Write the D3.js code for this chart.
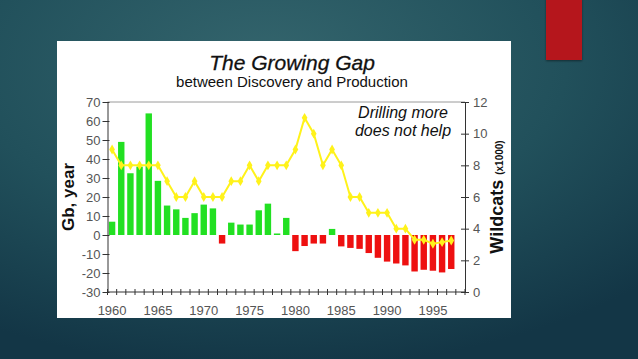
<!DOCTYPE html>
<html><head><meta charset="utf-8">
<script src="https://cdn.jsdelivr.net/npm/d3@7/dist/d3.min.js"></script>
<style>html,body{margin:0;padding:0;overflow:hidden;background:#1e4652}svg{display:block}</style>
</head><body><svg id="c" width="638" height="359"></svg>
<script>
// ---- data ----
const years = [1960,1961,1962,1963,1964,1965,1966,1967,1968,1969,1970,1971,1972,1973,1974,1975,1976,1977,1978,1979,1980,1981,1982,1983,1984,1985,1986,1987,1988,1989,1990,1991,1992,1993,1994,1995,1996,1997];
const slots = years.concat([1998]);
const gap = [7,49,32.5,36,64,28.5,15.5,13.5,9,11.5,16,14,-4.5,6.5,5.5,5.5,13,16.5,0.8,9,-8.5,-5.8,-4.5,-4.5,3.2,-6,-6.8,-7.3,-9.5,-12,-14,-15,-16,-19.2,-18.3,-18.8,-19.7,-17.9];
const wildcats = [9,8,8,8,8,8,7,6,6,7,6,6,6,7,7,8,7,8,8,8,9,11,10,8,9,8,6,6,5,5,5,4,4,3.3,3.3,3.05,3.15,3.25];
const yearLabels = [1960,1965,1970,1975,1980,1985,1990,1995];
const leftTicks = [-30,-20,-10,0,10,20,30,40,50,60,70];
const rightTicks = [0,2,4,6,8,10,12];
const title = "The Growing Gap";
const subtitle = "between Discovery and Production";
const note = ["Drilling more","does not help"];

const svg = d3.select("#c");
const defs = svg.append("defs");
const rg = defs.append("radialGradient").attr("id","bg").attr("cx","42%").attr("cy","18%").attr("r","85%");
rg.append("stop").attr("offset","0%").attr("stop-color","#34656d");
rg.append("stop").attr("offset","55%").attr("stop-color","#21505b");
rg.append("stop").attr("offset","100%").attr("stop-color","#133646");
const sh = defs.append("filter").attr("id","sh").attr("x","-20%").attr("y","-20%").attr("width","140%").attr("height","140%");
sh.append("feDropShadow").attr("dx",0).attr("dy",1).attr("stdDeviation",1.2).attr("flood-color","#000").attr("flood-opacity",0.45);

svg.append("rect").attr("width",638).attr("height",359).attr("fill","url(#bg)");
svg.append("rect").attr("x",546).attr("y",-2).attr("width",36).attr("height",62).attr("fill","#b5191a").attr("filter","url(#sh)");
svg.append("rect").attr("x",57).attr("y",41).attr("width",454).attr("height",277).attr("fill","#fff");

const L = 107.5, R = 465, T = 102, B = 292;
const x = d3.scaleBand().domain(slots).range([L,R]).paddingInner(0.3).paddingOuter(0.15);
const yL = d3.scaleLinear().domain([-30,70]).range([B,T]);
const yR = d3.scaleLinear().domain([0,12]).range([B,T]);
const step = x.step();

const font = "'Liberation Sans', Arial, sans-serif";
const fmt = d => String(d);

// bars
svg.append("g").selectAll("rect").data(years).join("rect")
  .attr("x", d => x(d))
  .attr("width", x.bandwidth())
  .attr("y", (d,i) => yL(Math.max(0, gap[i])))
  .attr("height", (d,i) => Math.abs(yL(gap[i]) - yL(0)))
  .attr("fill", (d,i) => gap[i] >= 0 ? "#22e022" : "#ee1010");

// frame top
svg.append("line").attr("x1",L).attr("x2",R).attr("y1",T).attr("y2",T).attr("stroke","#9a9a9a").attr("stroke-width",1);

// left axis
const gl = svg.append("g").attr("transform",`translate(${L},0)`)
  .call(d3.axisLeft(yL).tickValues(leftTicks).tickFormat(fmt).tickSize(5).tickPadding(2).tickSizeOuter(0));
gl.selectAll(".tick line").attr("x1",2);
// right axis
const gr = svg.append("g").attr("transform",`translate(${R},0)`)
  .call(d3.axisRight(yR).tickValues(rightTicks).tickFormat(fmt).tickSize(4).tickPadding(4).tickSizeOuter(0));
gr.selectAll(".tick line").attr("x1",-4);
// bottom axis labels
const gb = svg.append("g").attr("transform",`translate(0,${B})`)
  .call(d3.axisBottom(x).tickValues(yearLabels).tickFormat(fmt).tickSize(0).tickPadding(14));
gb.select(".domain").attr("d",`M${L},0H${R}`);
// bottom ticks at slot boundaries
svg.append("g").selectAll("line").data(slots.concat(["end"])).join("line")
  .attr("x1", d => d === "end" ? R : x(d) - step*0.15)
  .attr("x2", d => d === "end" ? R : x(d) - step*0.15)
  .attr("y1", B-3).attr("y2", B+3).attr("stroke","#333");

[gl,gr,gb].forEach(g => {
  g.select(".domain").attr("stroke","#333");
  g.selectAll(".tick line").attr("stroke","#333");
  g.selectAll("text").attr("font-family",font).attr("font-size",13).attr("fill","#555");
});

// wildcats line
const line = d3.line().x((d,i) => x(years[i]) + x.bandwidth()/2).y(d => yR(d));
svg.append("path").datum(wildcats).attr("d",line).attr("fill","none").attr("stroke","#fff21a").attr("stroke-width",2);
svg.append("g").selectAll("path").data(wildcats).join("path")
  .attr("transform",(d,i)=>`translate(${x(years[i]) + x.bandwidth()/2},${yR(d)})`)
  .attr("d", d3.symbol().type(d3.symbolDiamond).size(28)).attr("fill","#fff21a");

// titles
svg.append("text").attr("x",292).attr("y",70).attr("text-anchor","middle").attr("font-family",font)
  .attr("font-style","italic").attr("font-size",21).attr("fill","#111").attr("stroke","#111").attr("stroke-width",0.3).text(title);
svg.append("text").attr("x",292).attr("y",86.5).attr("text-anchor","middle").attr("font-family",font)
  .attr("font-size",15).attr("fill","#111").text(subtitle);
svg.append("g").selectAll("text").data(note).join("text")
  .attr("x",403).attr("y",(d,i)=>118 + i*17.5).attr("text-anchor","middle").attr("font-family",font)
  .attr("font-style","italic").attr("font-size",16).attr("fill","#111").text(d=>d);

// axis titles
svg.append("text").attr("transform","translate(68,197) rotate(-90)").attr("dy","0.35em").attr("text-anchor","middle")
  .attr("font-family",font).attr("font-weight","bold").attr("font-size",17).attr("fill","#111").text("Gb, year");
const wt = svg.append("text").attr("transform","translate(497,197) rotate(-90)").attr("dy","0.35em").attr("text-anchor","middle")
  .attr("font-family",font).attr("font-weight","bold").attr("fill","#111");
wt.append("tspan").attr("font-size",18).text("Wildcats ");
wt.append("tspan").attr("font-size",10).text("(x1000)");
</script></body></html>
